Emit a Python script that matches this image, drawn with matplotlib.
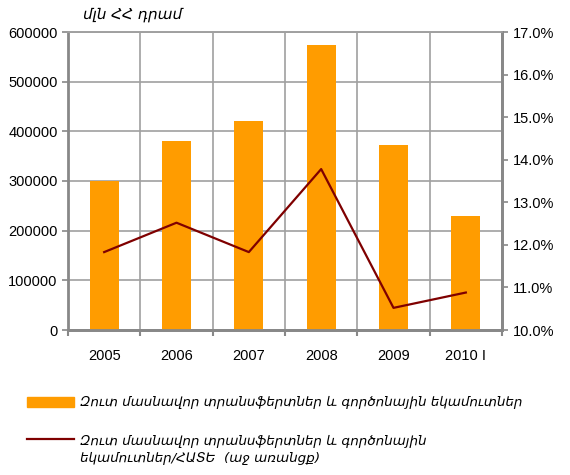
import matplotlib.pyplot as plt
import numpy as np
from matplotlib.ticker import FuncFormatter

plt.rcParams['font.family'] = ['Liberation Sans', 'DejaVu Sans']

# Տվյալներ
years = ['2005', '2006', '2007', '2008', '2009', '2010 I']
transfers = [300000, 380000, 421000, 573000, 373000, 229000]
share_gdi = [11.83, 12.52, 11.83, 13.78, 10.52, 10.88]

bar_label = 'Զուտ մասնավոր տրանսֆերտներ և գործոնային եկամուտներ'
line_label = 'Զուտ մասնավոր տրանսֆերտներ և գործոնային\nեկամուտներ/ՀԱՏԵ  (աջ առանցք)'
unit_label = 'մլն ՀՀ դրամ'

grid_color = '#a0a0a0'
spine_color = '#888888'

fig = plt.figure(figsize=(5.7, 4.75), dpi=100)
ax = fig.add_axes([68 / 570, 1 - 330 / 475, 434 / 570, 298 / 475])
ax2 = ax.twinx()

x = np.arange(len(years))
ax.bar(x, transfers, width=0.4, color='#ff9c00', zorder=3)
ax2.plot(x, share_gdi, color='#7f0000', linewidth=1.6, zorder=4)

ax.set_xlim(-0.5, len(years) - 0.5)
ax.set_ylim(0, 600000)
ax.set_yticks(np.arange(0, 600001, 100000))
ax2.set_ylim(10, 17)
ax2.set_yticks(np.arange(10, 17.01, 1))
ax2.yaxis.set_major_formatter(FuncFormatter(lambda v, p: f'{v:.1f}%'))

# ուղղահայաց ցանցը՝ կատեգորիաների սահմաններով
ax.set_xticks(x)
ax.set_xticklabels(years)
ax.set_xticks(np.arange(-0.5, len(years)), minor=True)
ax.tick_params(axis='x', which='major', length=0, pad=14)
ax.tick_params(axis='x', which='minor', length=4, color=spine_color, width=1.5)
ax.grid(axis='y', color=grid_color, linewidth=1.2, zorder=0)
ax.grid(axis='x', which='minor', color=grid_color, linewidth=1.2, zorder=0)
ax.set_axisbelow(True)

for a in (ax, ax2):
    a.tick_params(axis='y', length=4, color=spine_color, width=1.2, labelsize=10.5)
    for side in ('left', 'right', 'bottom'):
        a.spines[side].set_color(spine_color)
        a.spines[side].set_linewidth(2)
    a.spines['top'].set_color(grid_color)
    a.spines['top'].set_linewidth(1.2)
ax.tick_params(axis='x', labelsize=10.5)
ax2.spines['left'].set_visible(False)

fig.text(83 / 570, 1 - 14 / 475, unit_label, fontsize=11, style='italic',
         family='DejaVu Sans', ha='left', va='center')

# լեգենդ
leg_ax = fig.add_axes([0, 0, 1, 1], facecolor='none')
leg_ax.set_xlim(0, 570)
leg_ax.set_ylim(475, 0)
leg_ax.axis('off')
leg_ax.add_patch(plt.Rectangle((27, 397), 47, 10, color='#ff9c00'))
leg_ax.plot([27, 74], [439, 439], color='#7f0000', linewidth=1.6)
leg_ax.text(80, 402, bar_label, fontsize=9.7, style='italic',
            family='DejaVu Sans', va='center')
leg_ax.text(80, 450, line_label, fontsize=9.7, style='italic',
            family='DejaVu Sans', va='center', linespacing=1.35)

fig.savefig('out.png', dpi=100)
